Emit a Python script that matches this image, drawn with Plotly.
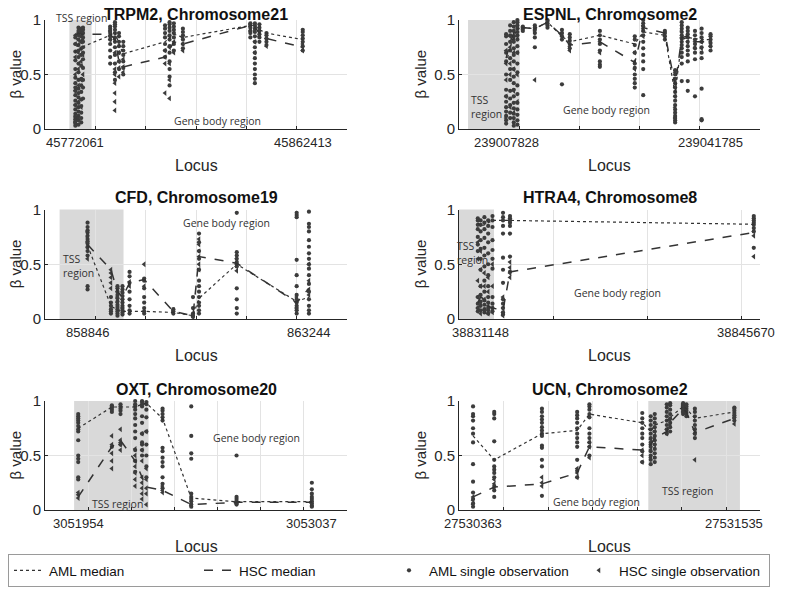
import plotly.graph_objects as go

# ---------------- TRPM2, Chromosome21 ----------------
trpm2_loci = [45772061, 45773300, 45774400, 45775100, 45785900, 45787800, 45789400, 45791100,
              45807700, 45809500, 45811200, 45814800, 45841600, 45843400, 45845200, 45848000,
              45862413]
trpm2_aml_med = [0.70, 0.80, 0.72, 0.755, 0.86, 0.89, 0.78, 0.69, 0.80, 0.84, 0.87, 0.84,
                 0.95, 0.95, 0.91, 0.88, 0.82]
trpm2_hsc_med = [0.86, 0.88, 0.87, 0.87, 0.87, 0.82, 0.62, 0.57, 0.66, 0.73, 0.80, 0.78,
                 0.95, 0.93, 0.88, 0.83, 0.75]
trpm2_aml = [
    [0.03, 0.05, 0.07, 0.09, 0.11, 0.14, 0.18, 0.22, 0.26, 0.31, 0.35, 0.38, 0.42, 0.47, 0.55, 0.63, 0.71, 0.78, 0.84],
    [0.04, 0.08, 0.12, 0.16, 0.2, 0.24, 0.29, 0.33, 0.37, 0.45, 0.52, 0.6, 0.66, 0.72, 0.77, 0.82, 0.86, 0.9, 0.93],
    [0.06, 0.1, 0.15, 0.21, 0.27, 0.34, 0.4, 0.46, 0.58, 0.68, 0.74, 0.8, 0.85, 0.89, 0.92],
    [0.28, 0.38, 0.45, 0.56, 0.64, 0.7, 0.75, 0.8, 0.84, 0.88, 0.91, 0.93],
    [0.6, 0.66, 0.72, 0.78, 0.82, 0.85, 0.88, 0.9, 0.92, 0.94],
    [0.45, 0.52, 0.6, 0.68, 0.75, 0.8, 0.84, 0.88, 0.91, 0.94, 0.96, 0.98],
    [0.55, 0.62, 0.7, 0.76, 0.8, 0.85, 0.88],
    [0.5, 0.56, 0.62, 0.68, 0.72, 0.76, 0.8],
    [0.66, 0.72, 0.78, 0.84, 0.88, 0.92, 0.95],
    [0.4, 0.48, 0.55, 0.62, 0.7, 0.76, 0.82, 0.86, 0.9, 0.93, 0.96, 0.98],
    [0.72, 0.78, 0.84, 0.88, 0.91, 0.94, 0.97],
    [0.74, 0.78, 0.82, 0.86, 0.89, 0.92],
    [0.84, 0.88, 0.9, 0.93, 0.95, 0.97],
    [0.42, 0.46, 0.5, 0.55, 0.6, 0.65, 0.7, 0.75, 0.8, 0.85, 0.89, 0.92, 0.95, 0.97],
    [0.8, 0.84, 0.87, 0.9, 0.93, 0.96],
    [0.77, 0.8, 0.83, 0.86, 0.88],
    [0.72, 0.76, 0.8, 0.83, 0.86, 0.89, 0.91],
]
trpm2_hsc = [
    [0.06, 0.12, 0.22, 0.35, 0.5, 0.66, 0.78, 0.86],
    [0.1, 0.25, 0.4, 0.55, 0.7, 0.82, 0.88],
    [0.2, 0.45, 0.62, 0.8, 0.9],
    [0.5, 0.68, 0.82, 0.88],
    [0.82, 0.86, 0.9],
    [0.17, 0.25, 0.33, 0.42, 0.5, 0.55, 0.7, 0.82],
    [0.48, 0.56, 0.62, 0.7],
    [0.52, 0.57, 0.64],
    [0.33, 0.6, 0.66, 0.72],
    [0.28, 0.45, 0.6, 0.75, 0.85],
    [0.7, 0.8, 0.88],
    [0.72, 0.78, 0.84],
    [0.9, 0.94, 0.96],
    [0.7, 0.8, 0.9],
    [0.85, 0.9],
    [0.76, 0.83],
    [0.72, 0.75, 0.78],
]
trpm2_tss = [45769700, 45778500]
trpm2_labels = [45772061, 45862413]

# ---------------- ESPNL, Chromosome2 ----------------
espnl_loci = [239007828, 239008500, 239009100, 239009700, 239010600, 239012600, 239014700,
              239017100, 239018400, 239023400, 239029200, 239030600, 239034200, 239035900,
              239037000, 239038000, 239039200, 239040300, 239041785]
espnl_aml_med = [0.60, 0.75, 0.85, 0.92, 0.93, 0.92, 0.98, 0.85, 0.80, 0.86, 0.78, 0.89,
                 0.86, 0.32, 0.82, 0.84, 0.83, 0.82, 0.82]
espnl_hsc_med = [0.65, 0.80, 0.88, 0.92, 0.93, 0.92, 0.98, 0.86, 0.77, 0.80, 0.61, 0.93,
                 0.88, 0.40, 0.84, 0.85, 0.80, 0.80, 0.80]
espnl_aml = [
    [0.05, 0.08, 0.12, 0.16, 0.2, 0.25, 0.3, 0.36, 0.5, 0.62, 0.7, 0.78, 0.85, 0.87],
    [0.1, 0.15, 0.22, 0.28, 0.35, 0.45, 0.55, 0.65, 0.72, 0.8, 0.86, 0.9, 0.95],
    [0.03, 0.06, 0.1, 0.14, 0.19, 0.24, 0.3, 0.36, 0.42, 0.48, 0.55, 0.62, 0.68, 0.74, 0.8, 0.85, 0.9, 0.94, 0.98],
    [0.04, 0.08, 0.13, 0.18, 0.24, 0.32, 0.4, 0.52, 0.6, 0.7, 0.76, 0.82, 0.86, 0.89, 0.92, 0.95, 0.98, 1.0],
    [0.9, 0.92, 0.94],
    [0.75, 0.84, 0.88, 0.91, 0.93, 0.95],
    [0.93, 0.95, 0.97, 0.99, 1.0],
    [0.41, 0.82, 0.85, 0.88, 0.91],
    [0.74, 0.78, 0.81, 0.84, 0.87],
    [0.57, 0.59, 0.62, 0.72, 0.78, 0.82, 0.86, 0.9],
    [0.38, 0.42, 0.46, 0.5, 0.56, 0.6, 0.7, 0.77, 0.82, 0.85],
    [0.31, 0.55, 0.62, 0.68, 0.74, 0.8, 0.86, 0.9, 0.94, 0.97, 1.0],
    [0.82, 0.85, 0.88, 0.9],
    [0.06, 0.08, 0.1, 0.12, 0.15, 0.18, 0.22, 0.26, 0.3, 0.34, 0.38, 0.42, 0.46, 0.5, 0.54],
    [0.44, 0.6, 0.66, 0.7, 0.74, 0.77, 0.8, 0.83, 0.86, 0.89, 0.92, 0.95, 0.98],
    [0.35, 0.44, 0.62, 0.68, 0.72, 0.76, 0.8, 0.84, 0.87, 0.9, 0.93],
    [0.3, 0.64, 0.7, 0.74, 0.78, 0.82, 0.86, 0.9],
    [0.08, 0.09, 0.37, 0.65, 0.7, 0.75, 0.8, 0.84, 0.88, 0.92],
    [0.72, 0.76, 0.79, 0.82, 0.85, 0.87],
]
espnl_hsc = [
    [0.1, 0.3, 0.45, 0.6, 0.72],
    [0.2, 0.5, 0.6, 0.75, 0.85],
    [0.15, 0.35, 0.55, 0.7, 0.82, 0.9],
    [0.25, 0.5, 0.7, 0.85, 0.95],
    [0.91, 0.93],
    [0.45, 0.9],
    [0.96, 0.98],
    [0.86, 0.88],
    [0.72, 0.76],
    [0.7, 0.8],
    [0.55, 0.62, 0.7],
    [0.85, 0.92, 0.95],
    [0.86, 0.88],
    [0.1, 0.2, 0.3, 0.38, 0.45, 0.52],
    [0.75, 0.84, 0.9],
    [0.8, 0.86],
    [0.75, 0.8],
    [0.74, 0.8],
    [0.76, 0.8],
]
espnl_tss = [239001500, 239010000]
espnl_labels = [239007828, 239041785]

# ---------------- CFD, Chromosome19 ----------------
cfd_loci = [858846, 859310, 859440, 859540, 859680, 859970, 860550, 860940, 861060,
            861810, 863000, 863244]
cfd_aml_med = [0.67, 0.12, 0.08, 0.07, 0.07, 0.07, 0.06, 0.03, 0.19, 0.50, 0.16, 0.20]
cfd_hsc_med = [0.68, 0.45, 0.25, 0.20, 0.33, 0.36, 0.07, 0.03, 0.57, 0.51, 0.15, 0.28]
cfd_aml = [
    [0.27, 0.3, 0.58, 0.62, 0.66, 0.69, 0.71, 0.73, 0.76, 0.79, 0.81, 0.84, 0.88],
    [0.05, 0.07, 0.09, 0.12, 0.15, 0.2],
    [0.03, 0.05, 0.07, 0.09, 0.11, 0.13, 0.16, 0.19, 0.22, 0.25, 0.28, 0.3],
    [0.04, 0.06, 0.08, 0.1, 0.12, 0.15, 0.18, 0.21, 0.24, 0.27, 0.3],
    [0.05, 0.08, 0.12, 0.18, 0.25, 0.33, 0.39, 0.43],
    [0.05, 0.07, 0.1, 0.15, 0.2, 0.28, 0.35, 0.37],
    [0.05, 0.07, 0.09],
    [0.02, 0.03, 0.05, 0.1, 0.2],
    [0.05, 0.08, 0.12, 0.15, 0.2, 0.25, 0.3, 0.35, 0.45, 0.55, 0.62, 0.7, 0.78],
    [0.05, 0.1, 0.18, 0.28, 0.48, 0.5, 0.52, 0.55, 0.58, 0.61, 0.97],
    [0.05, 0.08, 0.1, 0.12, 0.15, 0.18, 0.22, 0.3, 0.4, 0.54, 0.93, 0.95, 0.97],
    [0.05, 0.08, 0.12, 0.18, 0.25, 0.32, 0.4, 0.46, 0.5, 0.55, 0.6, 0.66, 0.72, 0.8, 0.84, 0.87, 0.98],
]
cfd_hsc = [
    [0.55, 0.65, 0.7, 0.75, 0.8],
    [0.28, 0.33, 0.38, 0.42, 0.45],
    [0.15, 0.2, 0.25],
    [0.1, 0.18, 0.25],
    [0.3, 0.34],
    [0.3, 0.36, 0.5],
    [0.06, 0.08],
    [0.02, 0.04],
    [0.45, 0.5, 0.57, 0.62, 0.68, 0.73],
    [0.44, 0.48, 0.51, 0.55],
    [0.1, 0.15, 0.2],
    [0.22, 0.27, 0.35, 0.5],
]
cfd_tss = [858290, 859560]
cfd_labels = [858846, 863244]

# ---------------- HTRA4, Chromosome8 ----------------
htra4_loci = [38831000, 38831148, 38831350, 38831550, 38831780, 38832340, 38832710, 38845670]
htra4_aml_med = [0.88, 0.85, 0.86, 0.88, 0.90, 0.90, 0.90, 0.865]
htra4_hsc_med = [0.15, 0.20, 0.18, 0.12, 0.10, 0.08, 0.43, 0.79]
htra4_aml = [
    [0.07, 0.1, 0.14, 0.2, 0.62, 0.68, 0.75, 0.82, 0.86, 0.9, 0.92],
    [0.08, 0.12, 0.16, 0.22, 0.3, 0.45, 0.55, 0.64, 0.72, 0.8, 0.86, 0.9],
    [0.06, 0.09, 0.13, 0.17, 0.25, 0.35, 0.48, 0.58, 0.65, 0.74, 0.82, 0.88, 0.93],
    [0.05, 0.08, 0.1, 0.15, 0.2, 0.3, 0.4, 0.5, 0.6, 0.7, 0.78, 0.85, 0.9],
    [0.07, 0.1, 0.14, 0.2, 0.46, 0.55, 0.63, 0.72, 0.84, 0.9, 0.94],
    [0.04, 0.06, 0.1, 0.14, 0.18, 0.33, 0.45, 0.56, 0.78, 0.85, 0.9, 0.93, 0.97],
    [0.43, 0.57, 0.78, 0.85, 0.88, 0.9, 0.92, 0.94],
    [0.65, 0.8, 0.83, 0.86, 0.88, 0.9, 0.92, 0.94],
]
htra4_hsc = [
    [0.1, 0.2, 0.35, 0.55, 0.7],
    [0.05, 0.15, 0.3, 0.45, 0.62],
    [0.08, 0.18, 0.3, 0.42],
    [0.05, 0.12, 0.25, 0.38],
    [0.06, 0.1, 0.3, 0.5],
    [0.03, 0.06, 0.1, 0.2],
    [0.38, 0.42, 0.47, 0.52],
    [0.57, 0.76, 0.8],
]
htra4_tss = [38830000, 38831860]
htra4_labels = [38831148, 38845670]

# ---------------- OXT, Chromosome20 ----------------
oxt_loci = [3051954, 3052110, 3052150, 3052218, 3052250, 3052270, 3052345, 3052478, 3052688, 3053037]
oxt_aml_med = [0.75, 0.945, 0.945, 0.945, 0.97, 0.98, 0.84, 0.11, 0.076, 0.076]
oxt_hsc_med = [0.12, 0.58, 0.64, 0.45, 0.30, 0.21, 0.18, 0.05, 0.07, 0.07]
oxt_aml = [
    [0.28, 0.3, 0.44, 0.47, 0.5, 0.64, 0.72, 0.74, 0.77, 0.8, 0.82, 0.84, 0.86, 0.88],
    [0.58, 0.9, 0.92, 0.94, 0.95, 0.96],
    [0.6, 0.88, 0.91, 0.93, 0.95, 0.97],
    [0.35, 0.45, 0.55, 0.66, 0.72, 0.78, 0.84, 0.88, 0.92, 0.95, 0.97, 1.0],
    [0.5, 0.55, 0.6, 0.62, 0.7, 0.8, 0.86, 0.95, 0.97, 0.99, 1.0],
    [0.3, 0.4, 0.5, 0.6, 0.72, 0.85, 0.92, 0.97, 0.99],
    [0.2, 0.24, 0.3, 0.4, 0.44, 0.48, 0.54, 0.57, 0.82, 0.85, 0.88, 0.91, 0.93],
    [0.03, 0.05, 0.08, 0.1, 0.12, 0.15, 0.47, 0.52, 0.68, 0.95],
    [0.05, 0.06, 0.07, 0.08, 0.1, 0.12, 0.5],
    [0.03, 0.04, 0.06, 0.08, 0.1, 0.12, 0.15, 0.19, 0.25],
]
oxt_hsc = [
    [0.11, 0.14, 0.16],
    [0.38, 0.45, 0.52, 0.6, 0.68],
    [0.55, 0.6, 0.62, 0.64, 0.74],
    [0.22, 0.28, 0.34, 0.4, 0.45, 0.5, 0.56],
    [0.1, 0.15, 0.2, 0.25, 0.3, 0.45, 0.55, 0.7],
    [0.05, 0.15, 0.2, 0.28, 0.38, 0.72],
    [0.16, 0.18, 0.22],
    [0.04, 0.06],
    [0.06, 0.08],
    [0.06, 0.08],
]
oxt_tss = [3051935, 3052280]
oxt_labels = [3051954, 3053037]

# ---------------- UCN, Chromosome2 ----------------
ucn_loci = [27530363, 27530458, 27530672, 27530830, 27530885, 27531122, 27531160, 27531178,
            27531232, 27531247, 27531305, 27531320, 27531358, 27531535]
ucn_aml_med = [0.68, 0.46, 0.70, 0.73, 0.88, 0.80, 0.72, 0.78, 0.82, 0.85, 0.95, 0.93, 0.84, 0.90]
ucn_hsc_med = [0.12, 0.21, 0.24, 0.34, 0.58, 0.55, 0.60, 0.66, 0.72, 0.80, 0.93, 0.90, 0.71, 0.84]
ucn_aml = [
    [0.03, 0.06, 0.1, 0.16, 0.26, 0.42, 0.62, 0.7, 0.75, 0.82, 0.86, 0.88, 0.95],
    [0.12, 0.18, 0.22, 0.3, 0.34, 0.37, 0.4, 0.46, 0.63, 0.84, 0.88, 0.9],
    [0.13, 0.4, 0.46, 0.57, 0.59, 0.68, 0.7, 0.73, 0.76, 0.8, 0.83, 0.86, 0.9, 0.93],
    [0.3, 0.36, 0.46, 0.58, 0.62, 0.66, 0.7, 0.75, 0.8, 0.84, 0.87, 0.9],
    [0.5, 0.58, 0.62, 0.66, 0.7, 0.75, 0.85, 0.88, 0.92, 0.95, 0.97],
    [0.44, 0.54, 0.6, 0.66, 0.7, 0.75, 0.8, 0.84, 0.89],
    [0.42, 0.46, 0.5, 0.54, 0.58, 0.62, 0.66, 0.7, 0.74, 0.78, 0.82, 0.86],
    [0.44, 0.48, 0.52, 0.56, 0.6, 0.64, 0.68, 0.72, 0.76, 0.8, 0.84, 0.88],
    [0.7, 0.74, 0.78, 0.82, 0.86, 0.9, 0.94, 0.97],
    [0.72, 0.76, 0.8, 0.84, 0.88, 0.92, 0.96, 0.98],
    [0.88, 0.9, 0.92, 0.93, 0.94, 0.95, 0.96, 0.97, 0.98],
    [0.86, 0.89, 0.91, 0.93, 0.95, 0.97],
    [0.66, 0.7, 0.74, 0.78, 0.82, 0.86, 0.9, 0.93],
    [0.82, 0.85, 0.87, 0.89, 0.91, 0.93, 0.94],
]
ucn_hsc = [
    [0.05, 0.09, 0.12],
    [0.2, 0.24, 0.28],
    [0.22, 0.25, 0.3],
    [0.3, 0.34, 0.38],
    [0.48, 0.58, 0.62],
    [0.44, 0.5, 0.55],
    [0.48, 0.55, 0.6, 0.65],
    [0.6, 0.66, 0.72],
    [0.7, 0.74],
    [0.78, 0.82],
    [0.9, 0.93, 0.95],
    [0.88, 0.92],
    [0.46, 0.7, 0.74],
    [0.79, 0.84],
]
ucn_tss = [27531149, 27531560]
ucn_labels = [27530363, 27531535]

panels = [
    dict(title="TRPM2, Chromosome21", loci=trpm2_loci, aml=trpm2_aml, hsc=trpm2_hsc,
         aml_med=trpm2_aml_med, hsc_med=trpm2_hsc_med, tss=trpm2_tss, labels=trpm2_labels,
         xr=[45760000, 45880000], step=20000,
         notes=[("TSS region", 0.12, 1.02), ("Gene body region", 0.57, 0.075)]),
    dict(title="ESPNL, Chromosome2", loci=espnl_loci, aml=espnl_aml, hsc=espnl_hsc,
         aml_med=espnl_aml_med, hsc_med=espnl_hsc_med, tss=espnl_tss, labels=espnl_labels,
         xr=[239000000, 239050000], step=10000,
         notes=[("TSS<br>region", 0.093, 0.2), ("Gene body region", 0.49, 0.17)]),
    dict(title="CFD, Chromosome19", loci=cfd_loci, aml=cfd_aml, hsc=cfd_hsc,
         aml_med=cfd_aml_med, hsc_med=cfd_hsc_med, tss=cfd_tss, labels=cfd_labels,
         xr=[858000, 864000], step=1000,
         notes=[("TSS<br>region", 0.11, 0.48), ("Gene body region", 0.6, 0.88)]),
    dict(title="HTRA4, Chromosome8", loci=htra4_loci, aml=htra4_aml, hsc=htra4_hsc,
         aml_med=htra4_aml_med, hsc_med=htra4_hsc_med, tss=htra4_tss, labels=htra4_labels,
         xr=[38830000, 38846000], step=5000,
         notes=[("TSS<br>region", 0.045, 0.6), ("Gene body region", 0.525, 0.24)]),
    dict(title="OXT, Chromosome20", loci=oxt_loci, aml=oxt_aml, hsc=oxt_hsc,
         aml_med=oxt_aml_med, hsc_med=oxt_hsc_med, tss=oxt_tss, labels=oxt_labels,
         xr=[3051800, 3053200], step=200,
         notes=[("TSS region", 0.24, 0.055), ("Gene body region", 0.7, 0.66)]),
    dict(title="UCN, Chromosome2", loci=ucn_loci, aml=ucn_aml, hsc=ucn_hsc,
         aml_med=ucn_aml_med, hsc_med=ucn_hsc_med, tss=ucn_tss, labels=ucn_labels,
         xr=[27530300, 27531650], step=200,
         notes=[("TSS region", 0.758, 0.17), ("Gene body region", 0.458, 0.07)]),
]

# the page puts the figure 8px in from the window corner
W, H = 779, 586
OFF = 8


def px_x(v):
    return (v - OFF) / W


def px_y(v):
    return 1 - (v - OFF) / H


col_dom = [[px_x(45), px_x(347)], [px_x(459), px_x(760)]]
row_dom = [[px_y(129), px_y(20)], [px_y(319), px_y(209.5)], [px_y(510), px_y(401)]]
ytitle_shift = [-30, -39]
title_shift = [-5, 1, 1]

DARK = "#3c3c3c"
GRID = "#e3e3e3"
AX = "#262626"
TICKFONT = "Liberation Sans, Arial, sans-serif"
NOTEFONT = "Open Sans, Noto Sans, sans-serif"


def flatten(loci, groups):
    xs, ys = [], []
    for x, vals in zip(loci, groups):
        xs += [x] * len(vals)
        ys += vals
    return xs, ys


fig = go.Figure()
annotations = []
shapes = []

for i, p in enumerate(panels):
    n = i + 1
    sfx = "" if n == 1 else str(n)
    xa, ya = "x" + sfx, "y" + sfx
    row, col = i // 2, i % 2
    first = n == 1

    ax_, ay_ = flatten(p["loci"], p["aml"])
    hx_, hy_ = flatten(p["loci"], p["hsc"])

    fig.add_trace(go.Scatter(
        x=ax_, y=ay_, mode="markers", name="AML single observation", legendrank=3,
        marker=dict(symbol="circle", size=4.2, color=DARK), cliponaxis=False,
        xaxis=xa, yaxis=ya, showlegend=first, hoverinfo="skip"))
    fig.add_trace(go.Scatter(
        x=hx_, y=hy_, mode="markers", name="HSC single observation", legendrank=4,
        marker=dict(symbol="triangle-left", size=5, color=DARK), cliponaxis=False,
        xaxis=xa, yaxis=ya, showlegend=first, hoverinfo="skip"))
    fig.add_trace(go.Scatter(
        x=p["loci"], y=p["aml_med"], mode="lines", name="AML median", legendrank=1,
        line=dict(color="#333333", width=1.2, dash="dot"),
        xaxis=xa, yaxis=ya, showlegend=first, hoverinfo="skip"))
    fig.add_trace(go.Scatter(
        x=p["loci"], y=p["hsc_med"], mode="lines", name="HSC median", legendrank=2,
        line=dict(color="#333333", width=1.5, dash="dash"),
        xaxis=xa, yaxis=ya, showlegend=first, hoverinfo="skip"))

    grid_vals = list(range(p["xr"][0], p["xr"][1] + 1, p["step"]))
    fig.update_layout({
        "xaxis" + sfx: dict(domain=col_dom[col], anchor=ya, range=p["xr"], tickvals=grid_vals,
                            showticklabels=False, showgrid=True, gridcolor=GRID, gridwidth=1,
                            zeroline=False, showline=True, linecolor=AX, linewidth=1,
                            ticks="inside", ticklen=3, tickcolor=AX),
        "yaxis" + sfx: dict(domain=row_dom[row], anchor=xa, range=[0, 1], tickvals=[0, 0.5, 1],
                            ticktext=["0", "0.5", "1"], showgrid=True, gridcolor=GRID,
                            zeroline=False, showline=True, linecolor=AX, linewidth=1,
                            ticks="inside", ticklen=3, tickcolor=AX,
                            tickfont=dict(family=TICKFONT, size=15, color="#262626")),
    })

    shapes.append(dict(type="rect", xref=xa, yref=ya + " domain", x0=p["tss"][0], x1=p["tss"][1],
                       y0=0, y1=1, fillcolor="#d9d9d9", line=dict(width=0), layer="below"))

    # title
    annotations.append(dict(text="<b>" + p["title"] + "</b>", xref=xa + " domain", yref=ya + " domain",
                            x=0.5, y=1, xanchor="center", yanchor="bottom", yshift=title_shift[row],
                            showarrow=False, font=dict(family=TICKFONT, size=16, color="#111111")))
    # first / last locus labels
    for lx in p["labels"]:
        shift = -8 if lx == 38845670 else 0
        annotations.append(dict(text=str(lx), xref=xa, yref=ya + " domain", x=lx, y=0,
                                xanchor="center", yanchor="top", yshift=-4, xshift=shift,
                                showarrow=False,
                                font=dict(family=TICKFONT, size=13, color="#262626")))
    # axis titles
    annotations.append(dict(text="Locus", xref=xa + " domain", yref=ya + " domain", x=0.5, y=0,
                            xanchor="center", yanchor="middle", yshift=-36, showarrow=False,
                            font=dict(family=TICKFONT, size=16, color="#262626")))
    annotations.append(dict(text="β value", xref=xa + " domain", yref=ya + " domain", x=0, y=0.5,
                            xanchor="center", yanchor="middle", xshift=ytitle_shift[col],
                            textangle=-90, showarrow=False,
                            font=dict(family=TICKFONT, size=15, color="#262626")))
    # region notes
    for txt, nx, ny in p["notes"]:
        annotations.append(dict(text=txt, xref=xa + " domain", yref=ya + " domain", x=nx, y=ny,
                                xanchor="center", yanchor="middle", showarrow=False, align="left",
                                font=dict(family=NOTEFONT, size=10.5, color="#333333")))

fig.update_layout(
    width=W, height=H,
    margin=dict(l=0, r=0, t=0, b=0),
    template="none",
    paper_bgcolor="white", plot_bgcolor="white",
    annotations=annotations, shapes=shapes,
    legend=dict(orientation="h", x=0, xanchor="left", y=px_y(554), yanchor="top",
                bordercolor="#9a9a9a", borderwidth=1, bgcolor="white",
                entrywidth=145, entrywidthmode="pixels", itemwidth=30,
                font=dict(family="Liberation Sans, Arial, sans-serif", size=13.5, color="#111111")),
)

fig.write_html("out.html")
